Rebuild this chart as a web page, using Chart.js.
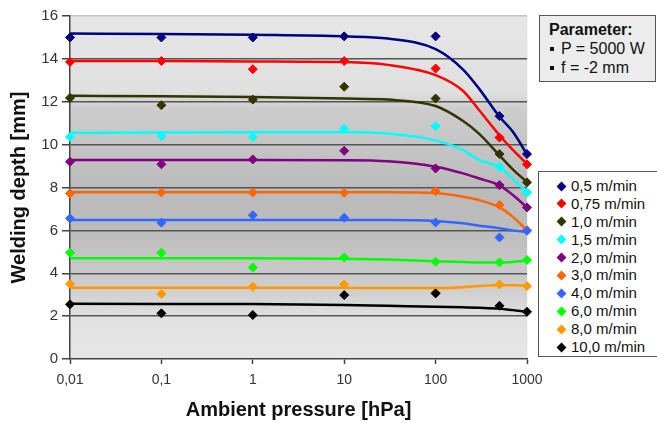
<!DOCTYPE html>
<html>
<head>
<meta charset="utf-8">
<script src="https://cdn.jsdelivr.net/npm/chart.js@4.4.0/dist/chart.umd.min.js"></script>
<style>
html,body{margin:0;padding:0;background:#fff;}
#wrap{position:relative;width:657px;height:423px;overflow:hidden;font-family:"Liberation Sans",Arial,sans-serif;}
#c{position:absolute;left:0;top:0;}
#param{position:absolute;left:539px;top:15px;width:117px;height:67px;box-sizing:border-box;border:1px solid #555;background:#ececec;padding:4px 0 0 9px;font-size:16px;line-height:19px;color:#111;}
#param .b{font-weight:bold;}
#param .sq{display:inline-block;width:4px;height:4px;background:#111;margin:0 7px 0 1px;vertical-align:middle;position:relative;top:-1px;}
#legend{position:absolute;left:538px;top:171px;width:120px;height:186px;box-sizing:border-box;border:1px solid #555;background:#fff;padding:5px 0 0 0;}
.li{position:relative;height:17.9px;line-height:18px;font-size:15px;color:#111;padding-left:32px;white-space:nowrap;}
.li .d{position:absolute;left:19px;top:5.5px;width:7px;height:7px;transform:rotate(45deg);}
</style>
</head>
<body>
<div id="wrap">
<canvas id="c" width="657" height="423"></canvas>
<div id="param">
<div class="b">Parameter:</div>
<div><span class="sq"></span>P = 5000 W</div>
<div><span class="sq"></span>f = -2 mm</div>
</div>
<div id="legend"></div>
</div>
<script>
// ---------- DATA ----------
const pressures = [0.01, 0.1, 1, 10, 100, 500, 1000];          // measured points [hPa]
const fitPressures = [0.01, 0.1, 1, 10, 30, 100, 200, 300, 500, 700, 1000]; // trend curve nodes [hPa]
const xTickValues = [0.01, 0.1, 1, 10, 100, 1000];
const xTickLabels = ['0,01', '0,1', '1', '10', '100', '1000'];
const seriesNames = ['0,5 m/min', '0,75 m/min', '1,0 m/min', '1,5 m/min', '2,0 m/min',
                     '3,0 m/min', '4,0 m/min', '6,0 m/min', '8,0 m/min', '10,0 m/min'];
const seriesColors = ['#000080', '#ff0000', '#333300', '#00ffff', '#800080',
                      '#ff6600', '#3366ff', '#00ff00', '#ff9900', '#000000'];

// measured welding depth [mm]
const depth05  = [15.0, 15.0, 15.0, 15.05, 15.05, 11.33, 9.56];
const depth075 = [13.86, 13.9, 13.52, 13.9, 13.55, 10.33, 9.08];
const depth10  = [12.18, 11.84, 12.1, 12.7, 12.15, 9.56, 8.24];
const depth15  = [10.36, 10.4, 10.36, 10.75, 10.86, 8.97, 7.77];
const depth20  = [9.2, 9.08, 9.31, 9.71, 8.89, 8.11, 7.07];
const depth30  = [7.72, 7.77, 7.77, 7.75, 7.83, 7.18, 6.01];
const depth40  = [6.56, 6.36, 6.71, 6.59, 6.37, 5.67, 5.98];
const depth60  = [4.96, 4.96, 4.27, 4.74, 4.54, 4.51, 4.62];
const depth80  = [3.5, 3.03, 3.37, 3.48, 3.1, 3.48, 3.4];
const depth100 = [2.55, 2.13, 2.05, 2.98, 3.06, 2.48, 2.2];

// trend curves [mm] read at fitPressures
const fit05  = [15.18, 15.16, 15.12, 15.05, 14.95, 14.45, 13.5, 12.6, 11.3, 10.6, 9.55];
const fit075 = [13.9, 13.9, 13.88, 13.85, 13.72, 13.24, 12.5, 11.6, 10.44, 9.75, 9.1];
const fit10  = [12.28, 12.26, 12.22, 12.15, 12.1, 11.8, 11.1, 10.5, 9.5, 8.85, 8.25];
const fit15  = [10.55, 10.56, 10.58, 10.58, 10.52, 10.2, 9.74, 9.28, 8.95, 8.4, 7.8];
const fit20  = [9.28, 9.28, 9.28, 9.27, 9.22, 8.97, 8.66, 8.42, 8.1, 7.65, 7.07];
const fit30  = [7.78, 7.78, 7.78, 7.78, 7.78, 7.74, 7.57, 7.41, 7.07, 6.63, 6.0];
const fit40  = [6.48, 6.48, 6.48, 6.48, 6.48, 6.44, 6.33, 6.22, 6.1, 6.0, 5.93];
const fit60  = [4.7, 4.7, 4.7, 4.68, 4.64, 4.56, 4.52, 4.5, 4.5, 4.53, 4.6];
const fit80  = [3.32, 3.32, 3.32, 3.32, 3.31, 3.31, 3.35, 3.4, 3.45, 3.44, 3.42];
const fit100 = [2.58, 2.57, 2.56, 2.52, 2.48, 2.44, 2.41, 2.39, 2.35, 2.28, 2.2];

const yMin = 0, yMax = 16, yStep = 2;
// ---------------------------

const measured = [depth05, depth075, depth10, depth15, depth20, depth30, depth40, depth60, depth80, depth100];
const fits = [fit05, fit075, fit10, fit15, fit20, fit30, fit40, fit60, fit80, fit100];

const datasets = [];
fits.forEach((f, i) => {
  datasets.push({
    type: 'line',
    label: 'fit ' + seriesNames[i],
    data: f.map((v, k) => ({x: fitPressures[k], y: v})),
    borderColor: seriesColors[i],
    borderWidth: 2.5,
    pointRadius: 0,
    fill: false,
    cubicInterpolationMode: 'monotone',
    order: 100,
    clip: false
  });
});
measured.forEach((m, i) => {
  datasets.push({
    type: 'scatter',
    label: seriesNames[i],
    data: m.map((v, k) => ({x: pressures[k], y: v})),
    backgroundColor: seriesColors[i],
    borderColor: seriesColors[i],
    borderWidth: 1,
    pointStyle: 'rectRot',
    pointRadius: 4.5,
    showLine: false,
    order: 20 - i,
    clip: false
  });
});

const bgPlugin = {
  id: 'bg',
  beforeDraw(chart) {
    const {ctx, chartArea: a} = chart;
    const g = ctx.createLinearGradient(0, a.top, 0, a.bottom);
    g.addColorStop(0, '#e6e6e6');
    g.addColorStop(0.22, '#e0e0e0');
    g.addColorStop(0.27, '#cdcdcd');
    g.addColorStop(0.5, '#bbbbbb');
    g.addColorStop(0.62, '#bcbcbc');
    g.addColorStop(0.8, '#cfcfcf');
    g.addColorStop(0.88, '#e1e1e1');
    g.addColorStop(1, '#e6e6e6');
    ctx.save();
    ctx.fillStyle = g;
    ctx.fillRect(a.left, a.top, a.right - a.left, a.bottom - a.top);
    ctx.strokeStyle = '#f4f4f4';
    ctx.lineWidth = 1;
    ctx.beginPath();
    ctx.moveTo(a.right + 0.5, a.top);
    ctx.lineTo(a.right + 0.5, a.bottom);
    ctx.stroke();
    ctx.restore();
  }
};

new Chart(document.getElementById('c'), {
  data: {datasets},
  plugins: [bgPlugin],
  options: {
    responsive: false,
    animation: false,
    devicePixelRatio: 1,
    layout: {padding: {top: 16, right: 130, left: 0, bottom: 0}},
    plugins: {legend: {display: false}, tooltip: {enabled: false}},
    scales: {
      x: {
        type: 'logarithmic',
        min: 0.01, max: 1000,
        afterBuildTicks: s => { s.ticks = xTickValues.map(v => ({value: v})); },
        afterFit: s => { s.height = 64; },
        ticks: {
          callback: (v, i) => xTickLabels[i],
          font: {family: '"Liberation Sans", Arial, sans-serif', size: 14},
          color: '#333',
          padding: 8,
          maxRotation: 0, autoSkip: false
        },
        grid: {display: true, drawOnChartArea: false, drawTicks: true, tickLength: 5, tickColor: '#444', tickWidth: 1.5},
        border: {display: true, color: '#444', width: 1.5},
        title: {display: true, text: 'Ambient pressure [hPa]', color: '#111',
                font: {family: '"Liberation Sans", Arial, sans-serif', size: 20, weight: 'bold'},
                padding: {top: 0, bottom: 1}}
      },
      y: {
        min: yMin, max: yMax,
        afterFit: s => { s.width = 70; },
        ticks: {
          stepSize: yStep,
          font: {family: '"Liberation Sans", Arial, sans-serif', size: 15},
          color: '#333',
          padding: 4
        },
        grid: {
          color: c => (c.tick.value > yMin && c.tick.value < yMax) ? '#555' : (c.tick.value === yMax ? '#c4c4c4' : 'rgba(0,0,0,0)'),
          lineWidth: 1.5,
          tickLength: 8,
          tickColor: '#444',
          tickWidth: 1.5
        },
        border: {display: true, color: '#444', width: 1.5},
        title: {display: true, text: 'Welding depth [mm]', color: '#111',
                font: {family: '"Liberation Sans", Arial, sans-serif', size: 20, weight: 'bold'},
                padding: {top: 7, bottom: 0}}
      }
    }
  }
});

const leg = document.getElementById('legend');
seriesNames.forEach((n, i) => {
  const d = document.createElement('div');
  d.className = 'li';
  const sw = document.createElement('span');
  sw.className = 'd';
  sw.style.background = seriesColors[i];
  d.appendChild(sw);
  d.appendChild(document.createTextNode(n));
  leg.appendChild(d);
});
</script>
</body>
</html>
